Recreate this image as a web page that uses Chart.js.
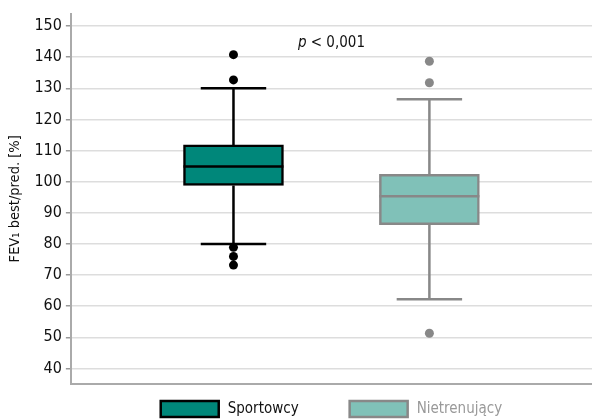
<!DOCTYPE html>
<html>
<head>
<meta charset="utf-8">
<script src="https://cdn.jsdelivr.net/npm/chart.js@4"></script>
<style>
  html, body { margin: 0; padding: 0; background: #fff; }
  #wrap { width: 592px; height: 420px; }
</style>
</head>
<body>
<div id="wrap"><canvas id="boxChart"></canvas></div>
<script>
const categories = ['Sportowcy', 'Nietrenujący'];
const q1 = [98.8, 86.2];
const median = [104.9, 95.3];
const q3 = [111.8, 102.4];
const whiskerLow = [80, 62.2];
const whiskerHigh = [130, 126.5];
const outliers = [
    [140.8, 132.7, 78.9, 76.0, 73.2],
    [138.7, 131.8, 51.3]
];
const yTicks = [40, 50, 60, 70, 80, 90, 100, 110, 120, 130, 140, 150];

const fillColors = ['#00877a', '#80c1b8'];
const lineColors = ['#000000', '#888888'];
const labelColors = ['#111111', '#999999'];
const FONT = "'DejaVu Sans Condensed', 'Liberation Sans Narrow', sans-serif";

// box datasets (floating bars) + outlier points
const datasets = [];
categories.forEach((name, i) => {
    datasets.push({
        type: 'bar',
        label: name,
        data: [{ x: i + 1, y: [q1[i], q3[i]] }],
        backgroundColor: fillColors[i],
        borderColor: lineColors[i],
        borderWidth: 2.5,
        borderSkipped: false,
        barThickness: 100,
        grouped: false,
        order: 2
    });
});
categories.forEach((name, i) => {
    datasets.push({
        type: 'scatter',
        label: name + ' outliers',
        data: outliers[i].map(v => ({ x: i + 1, y: v })),
        backgroundColor: lineColors[i],
        borderWidth: 0,
        pointRadius: 4.5,
        pointHoverRadius: 4.5,
        order: 1
    });
});

// whiskers, medians, note and legend
const boxParts = {
    id: 'boxParts',
    beforeDatasetsDraw(chart) {
        const ctx = chart.ctx;
        const xs = chart.scales.x, ys = chart.scales.y;
        categories.forEach((name, i) => {
            const x = xs.getPixelForValue(i + 1);
            const cap = xs.getPixelForValue(i + 1 + 0.167) - x;
            ctx.save();
            ctx.strokeStyle = lineColors[i];
            ctx.lineWidth = 2.5;
            ctx.beginPath();
            ctx.moveTo(x, ys.getPixelForValue(q3[i]));
            ctx.lineTo(x, ys.getPixelForValue(whiskerHigh[i]));
            ctx.moveTo(x, ys.getPixelForValue(q1[i]));
            ctx.lineTo(x, ys.getPixelForValue(whiskerLow[i]));
            ctx.moveTo(x - cap, ys.getPixelForValue(whiskerHigh[i]));
            ctx.lineTo(x + cap, ys.getPixelForValue(whiskerHigh[i]));
            ctx.moveTo(x - cap, ys.getPixelForValue(whiskerLow[i]));
            ctx.lineTo(x + cap, ys.getPixelForValue(whiskerLow[i]));
            ctx.stroke();
            ctx.restore();
        });
    },
    afterDatasetsDraw(chart) {
        const ctx = chart.ctx;
        const ys = chart.scales.y;
        categories.forEach((name, i) => {
            const bar = chart.getDatasetMeta(i).data[0];
            const y = ys.getPixelForValue(median[i]);
            ctx.save();
            ctx.strokeStyle = lineColors[i];
            ctx.lineWidth = 2.5;
            ctx.beginPath();
            ctx.moveTo(bar.x - bar.width / 2, y);
            ctx.lineTo(bar.x + bar.width / 2, y);
            ctx.stroke();
            ctx.restore();
        });
        // p-value note
        const xs = chart.scales.x;
        const px = xs.getPixelForValue(1.5);
        const py = ys.getPixelForValue(144.5);
        ctx.save();
        ctx.textBaseline = 'middle';
        ctx.fillStyle = '#111';
        ctx.font = 'italic 15px ' + FONT;
        const pw = ctx.measureText('p').width;
        ctx.font = '15px ' + FONT;
        const rest = ' < 0,001';
        const rw = ctx.measureText(rest).width;
        const start = px - (pw + rw) / 2;
        ctx.font = 'italic 15px ' + FONT;
        ctx.fillText('p', start, py);
        ctx.font = '15px ' + FONT;
        ctx.fillText(rest, start + pw, py);
        ctx.restore();
    },
    afterDraw(chart) {
        // legend below the plot
        const ctx = chart.ctx;
        const area = chart.chartArea;
        const boxW = 58, boxH = 16, gap = 9, spacing = 51;
        ctx.save();
        ctx.font = '15px ' + FONT;
        const widths = categories.map(name => ctx.measureText(name).width);
        const total = widths.reduce((s, w) => s + boxW + gap + w, 0) + spacing * (categories.length - 1);
        let x = (area.left + area.right) / 2 - total / 2;
        const cy = 409;
        categories.forEach((name, i) => {
            ctx.fillStyle = fillColors[i];
            ctx.strokeStyle = lineColors[i];
            ctx.lineWidth = 2.5;
            ctx.fillRect(x, cy - boxH / 2, boxW, boxH);
            ctx.strokeRect(x, cy - boxH / 2, boxW, boxH);
            ctx.fillStyle = labelColors[i];
            ctx.textBaseline = 'middle';
            ctx.fillText(name, x + boxW + gap, cy);
            x += boxW + gap + widths[i] + spacing;
        });
        ctx.restore();
    }
};

new Chart(document.getElementById('boxChart').getContext('2d'), {
    type: 'bar',
    data: { datasets: datasets },
    options: {
        responsive: true,
        maintainAspectRatio: false,
        animation: false,
        layout: { autoPadding: false, padding: { top: 12, right: 0, bottom: 28, left: 7 } },
        plugins: {
            tooltip: { enabled: false },
            legend: { display: false }
        },
        scales: {
            x: {
                type: 'linear',
                offset: false,
                min: 0.17,
                max: 2.83,
                ticks: { display: false },
                grid: { display: false, offset: false },
                border: { display: true, color: '#aaaaaa', width: 2 },
                afterFit: axis => { axis.paddingLeft = 0; axis.paddingRight = 0; }
            },
            y: {
                min: 35,
                max: 154,
                afterBuildTicks: axis => { axis.ticks = yTicks.map(v => ({ value: v })); },
                ticks: {
                    color: '#111',
                    font: { family: FONT, size: 16 },
                    padding: 4
                },
                grid: {
                    color: '#dddddd',
                    lineWidth: 1.5,
                    tickLength: 5,
                    tickColor: '#999999'
                },
                border: { display: true, color: '#aaaaaa', width: 2 },
                title: {
                    display: true,
                    text: 'FEV₁ best/pred. [%]',
                    color: '#111',
                    font: { family: FONT, size: 14.5 },
                    padding: { top: 0, bottom: 6 }
                }
            }
        }
    },
    plugins: [boxParts]
});
</script>
</body>
</html>
